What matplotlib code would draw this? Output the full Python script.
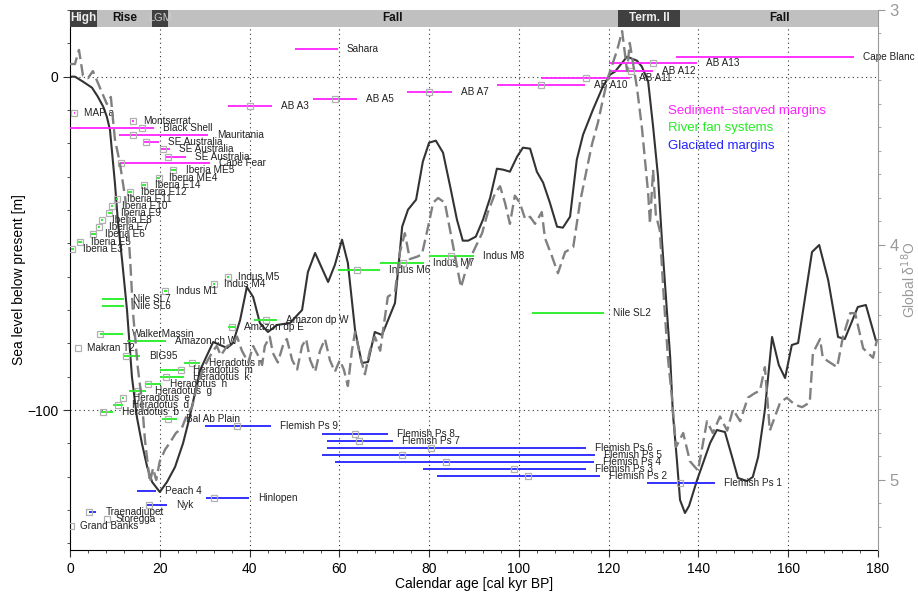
import numpy as np
import matplotlib
matplotlib.use('Agg')
import matplotlib.pyplot as plt
from matplotlib.ticker import MultipleLocator, FixedLocator

plt.rcParams['font.family'] = ['Liberation Sans', 'DejaVu Sans']

# sea level reconstruction (solid, left axis) [kyr BP, m]
sl_age = [0.0, 1.1, 2.9, 4.9, 6.2, 7.4, 8.2, 8.9, 10.0, 10.7, 11.6, 12.7, 13.8,
          14.9, 16.0, 17.2, 18.3, 20.0, 21.6, 23.4, 25.2, 26.5, 29.0, 31.9,
          35.0, 36.3, 37.9, 39.4, 40.8, 42.3, 44.1, 46.1, 49.0, 51.7, 53.0,
          54.6, 57.5, 59.0, 60.6, 61.9, 63.5, 65.0, 66.4, 67.9, 69.5, 72.4,
          74.0, 75.3, 77.1, 78.6, 80.0, 81.5, 83.1, 84.7, 86.2, 87.5, 88.7,
          90.4, 92.0, 93.6, 95.1, 96.5, 98.0, 99.6, 100.9, 102.5, 104.0,
          105.4, 106.9, 108.5, 109.8, 111.4, 112.9, 114.3, 116.5, 118.7,
          120.3, 121.4, 124.1, 126.3, 127.4, 128.8, 129.9, 131.0, 131.9,
          133.7, 134.3, 135.2, 135.9, 137.0, 137.9, 139.7, 142.6, 144.1,
          145.9, 147.5, 148.8, 150.8, 152.1, 153.3, 154.8, 156.4, 157.9,
          159.3, 160.8, 162.2, 165.3, 166.9, 168.9, 171.1, 172.6, 175.5,
          177.3, 179.5]
sl_m = [0, 0, -1.5, -3.3, -6.0, -9.0, -12.0, -15.9, -31.8, -43.8, -55.0,
        -70.0, -90.1, -102.1, -109.9, -117.1, -121.6, -124.6, -121.6, -117.1,
        -109.9, -103.0, -88.0, -79.6, -81.4, -79.9, -73.0, -63.1, -66.1,
        -73.9, -76.6, -74.5, -73.9, -70.0, -58.6, -52.9, -61.6, -56.5, -48.9,
        -55.9, -76.0, -85.9, -85.6, -76.6, -77.5, -67.9, -45.0, -39.9, -36.9,
        -25.5, -19.8, -19.2, -22.8, -33.0, -42.9, -49.2, -49.2, -48.0, -42.9,
        -36.3, -27.6, -27.9, -28.5, -24.0, -21.3, -21.6, -28.5, -31.8, -37.8,
        -45.0, -45.3, -42.0, -24.9, -17.4, -9.9, -3.0, 0.6, 1.5, 6.0, 4.8,
        3.0, -1.5, -15.0, -30.0, -49.8, -84.1, -100.9, -115.0, -127.0, -130.9,
        -128.8, -121.0, -109.9, -106.0, -106.6, -114.1, -120.4, -121.3,
        -120.1, -114.1, -100.0, -78.1, -86.5, -90.4, -80.5, -79.9, -52.6,
        -50.5, -61.0, -78.1, -78.7, -69.1, -68.5, -79.0]

# global benthic d18O stack (dashed, right axis) [kyr BP, permil]
d18o_age = [0.0, 1.1, 2.0, 2.9, 4.0, 5.1, 6.0, 7.1, 8.2, 9.1, 10.0, 11.1,
            12.3, 12.9, 13.4, 14.0, 15.1, 16.0, 16.7, 17.8, 18.5, 19.2, 20.0,
            21.2, 22.3, 23.6, 24.9, 26.1, 27.2, 28.3, 29.6, 30.7, 31.9, 32.7,
            33.6, 35.0, 36.3, 37.2, 38.3, 39.7, 40.8, 41.9, 42.8, 43.4, 44.5,
            45.2, 46.3, 47.4, 48.3, 49.5, 50.6, 51.7, 52.6, 53.5, 54.6, 55.7,
            56.8, 57.9, 59.0, 60.1, 61.0, 61.9, 62.8, 63.5, 64.6, 65.7, 66.8,
            67.9, 69.1, 70.8, 72.4, 73.5, 74.6, 75.7, 77.3, 78.4, 79.8, 80.9,
            82.0, 83.5, 84.7, 85.8, 87.1, 88.0, 89.8, 91.8, 93.1, 94.7, 95.8,
            96.9, 98.0, 99.1, 100.2, 101.4, 102.5, 103.6, 105.1, 105.8, 107.4,
            108.7, 110.3, 112.1, 113.6, 115.2, 116.3, 117.6, 118.5, 119.8,
            121.9, 123.0, 124.1, 124.7, 126.3, 127.4, 128.1, 128.8, 129.2,
            129.9, 130.5, 131.4, 132.3, 133.2, 134.1, 135.0, 136.6, 138.1,
            139.9, 141.9, 143.2, 144.8, 146.4, 147.7, 149.3, 151.0, 152.6,
            153.7, 154.8, 155.9, 158.2, 159.7, 161.5, 163.1, 164.8, 165.5,
            167.1, 167.7, 169.3, 170.9, 172.2, 173.8, 174.9, 176.7, 177.8,
            178.9, 179.8]
d18o = [3.23, 3.23, 3.17, 3.28, 3.29, 3.26, 3.30, 3.35, 3.40, 3.37, 3.55,
        3.65, 3.80, 3.92, 4.06, 4.28, 4.52, 4.66, 4.83, 5.01, 4.95, 5.00,
        4.92, 4.87, 4.84, 4.80, 4.78, 4.72, 4.69, 4.60, 4.53, 4.49, 4.45,
        4.43, 4.47, 4.43, 4.42, 4.39, 4.45, 4.50, 4.43, 4.47, 4.51, 4.43,
        4.39, 4.46, 4.50, 4.43, 4.40, 4.49, 4.53, 4.43, 4.40, 4.49, 4.54,
        4.45, 4.40, 4.49, 4.54, 4.49, 4.53, 4.60, 4.45, 4.37, 4.47, 4.55,
        4.45, 4.39, 4.45, 4.22, 4.20, 4.03, 3.95, 4.06, 4.05, 4.04, 3.92,
        3.82, 3.80, 3.82, 3.94, 4.05, 4.18, 4.12, 4.03, 3.95, 3.86, 3.78,
        3.75, 3.82, 3.91, 3.79, 3.82, 3.89, 3.88, 3.91, 3.86, 3.97, 4.05,
        4.12, 4.03, 4.01, 3.82, 3.67, 3.57, 3.48, 3.40, 3.29, 3.17, 3.09,
        3.26, 3.14, 3.33, 3.50, 3.64, 3.78, 3.91, 3.68, 3.87, 3.94, 4.23,
        4.48, 4.65, 4.86, 4.80, 4.92, 4.96, 4.75, 4.80, 4.73, 4.79, 4.70,
        4.75, 4.65, 4.63, 4.62, 4.52, 4.79, 4.67, 4.65, 4.68, 4.69, 4.67,
        4.46, 4.40, 4.48, 4.50, 4.52, 4.39, 4.29, 4.29, 4.44, 4.46, 4.48,
        4.40]

# phases shown in the top bar
phase_names = ['High', 'Rise', 'LGM', 'Fall', 'Term. II', 'Fall']
phase_start = [0, 6.0, 18.3, 21.8, 122.0, 136.0]
phase_end = [6.0, 18.3, 21.8, 122.0, 136.0, 180]
phase_dark = [True, False, True, False, True, False]

# sea level indicator records: S sediment-starved, R river fan, G glaciated
rec_name = ['Sahara', 'AB A3', 'AB A5', 'AB A7', 'AB A10', 'AB A11',
            'AB A12', 'AB A13', 'Cape Blanc', 'MAP a', 'Montserrat',
            'Black Shell', 'Mauritania', 'SE Australia', 'SE Australia',
            'SE Australia', 'Cape Fear',
            'Iberia ME5', 'Iberia ME4', 'Iberia E14', 'Iberia E12',
            'Iberia E11', 'Iberia E10', 'Iberia E9', 'Iberia E8', 'Iberia E7',
            'Iberia E6', 'Iberia E5', 'Iberia E3', 'Indus M5', 'Indus M4',
            'Indus M1', 'Nile SL7', 'Nile SL6', 'WalkerMassin', 'Amazon ch W',
            'Makran T2', 'BIG95', 'Amazon dp W', 'Amazon dp E', 'Heradotus n',
            'Heradotus  m', 'Heradotus  k', 'Heradotus  h', 'Heradotus  g',
            'Heradotus  e', 'Heradotus  d', 'Heradotus  b', 'Bal Ab Plain',
            'Indus M6', 'Indus M7', 'Indus M8', 'Nile SL2',
            'Flemish Ps 9', 'Flemish Ps 8', 'Flemish Ps 7', 'Flemish Ps 6',
            'Flemish Ps 5', 'Flemish Ps 4', 'Flemish Ps 3', 'Flemish Ps 2',
            'Flemish Ps 1', 'Peach 4', 'Hinlopen', 'Nyk', 'Traenadjupet',
            'Storegga', 'Grand Banks']
rec_group = ['S'] * 17 + ['R'] * 36 + ['G'] * 15
nan = np.nan
rec_lo = [50.1, 35.2, 54.1, 75.1, 95.1, 104.9, 120.1, 120.1, 135.0, 0.8,
          13.8, 0.0, 10.9, 16.3, 20.0, 21.2, 11.1,
          22.4, 19.4, 16.0, 12.9, 10.2, 9.1, 8.4, 6.9, 6.3, 4.5, 1.8, 0.2,
          34.9, 31.8, 20.9, 7.1, 7.1, 6.7, 12.7, nan, 12.0, 41.0, 35.2, 25.4,
          20.0, 20.0, 16.7, 13.2, 11.6, 9.6, 6.7, 20.5, 59.7, 69.1, 80.0,
          102.9,
          30.1, 56.1, 57.3, 57.3, 56.1, 59.0, 78.6, 81.8, 128.5, 14.9, 30.3,
          16.9, 4.2, nan, nan]
rec_hi = [59.7, 45.0, 63.9, 85.1, 114.7, 124.7, 129.9, 139.7, 174.7, 1.2,
          14.2, 18.7, 30.7, 19.8, 22.3, 25.8, 31.2,
          23.9, 20.0, 16.9, 13.8, 10.7, 9.6, 9.3, 7.3, 6.7, 5.8, 2.6, 0.9,
          35.5, 32.4, 21.5, 12.0, 12.0, 11.8, 21.4, nan, 15.6, 46.1, 36.8,
          29.0, 25.4, 25.4, 20.3, 16.9, 12.0, 11.8, 9.6, 23.8, 69.1, 78.9,
          90.0, 119.0,
          44.8, 70.8, 72.0, 114.9, 117.0, 116.7, 114.9, 118.1, 143.7, 19.2,
          39.9, 21.6, 5.9, nan, nan]
rec_mark = [nan, 40.1, 59.0, 80.0, 104.9, 114.9, 125.0, 129.9, nan, 1.0,
            14.0, 16.0, 14.0, 16.9, 20.7, 21.8, 11.4,
            23.0, 19.8, 16.5, 13.4, 10.5, 9.4, 8.7, 7.1, 6.5, 5.1, 2.2, 0.4,
            35.2, 32.1, 21.2, nan, nan, 6.7, nan, 1.8, 12.5, 43.7, 36.1, 27.2,
            24.7, 21.4, 17.4, 15.1, 11.8, 10.7, 7.4, 21.8, 63.9, 74.2, 84.9,
            nan,
            37.2, 63.5, 64.4, 80.4, 74.0, 83.8, 98.9, 102.0, 135.9, nan, 32.1,
            17.6, 4.2, 8.2, 0.2]
rec_level = [8.4, -8.7, -6.6, -4.5, -2.4, -0.3, 1.8, 4.2, 6.0, -10.8, -13.2,
             -15.3, -17.4, -19.5, -21.6, -24.0, -25.8,
             -27.9, -30.3, -32.4, -34.5, -36.6, -38.7, -40.8, -42.9, -45.0,
             -47.1, -49.5, -51.7, -60.0, -62.2, -64.3, -66.7, -68.8, -77.2,
             -79.3, -81.4, -83.8, -73.0, -75.0, -85.9, -88.0, -90.1, -92.2,
             -94.3, -96.4, -98.5, -100.6, -102.7, -58.0, -55.9, -53.8, -70.9,
             -104.8, -107.1, -109.3, -111.4, -113.5, -115.6, -117.7, -119.8,
             -121.9, -124.3, -126.4, -128.5, -130.6, -132.7, -134.8]

group_names = ['Sediment\u2212starved margins', 'River fan systems',
               'Glaciated margins']
group_keys = ['S', 'R', 'G']
group_color = {'S': '#ff22ff', 'R': '#22ee22', 'G': '#2222ff'}


def main():
    fig = plt.figure(figsize=(9.18, 5.98), dpi=100)
    ax = fig.add_axes([70 / 918, 48 / 598, 808 / 918, 540 / 598])
    ax2 = ax.twinx()

    # grid
    for x in range(20, 180, 20):
        ax.axvline(x, color='#333333', lw=0.8, ls=(0, (1, 3)), zorder=0)
    for y in (0, -100):
        ax.axhline(y, color='#333333', lw=0.8, ls=(0, (1, 3)), zorder=0)

    ax.plot(sl_age, sl_m, color='#333333', lw=1.5, zorder=2)
    ax2.plot(d18o_age, d18o, color='#808080', lw=1.7, dashes=(5, 2.2))

    for i in range(len(rec_name)):
        c = group_color[rec_group[i]]
        if not np.isnan(rec_lo[i]):
            ax.plot([rec_lo[i], rec_hi[i]], [rec_level[i]] * 2, color=c,
                    lw=1.3, solid_capstyle='butt', zorder=3)
        if not np.isnan(rec_mark[i]):
            ax.plot(rec_mark[i], rec_level[i], 's', mfc='none',
                    mec='#b0b0b0', ms=5, mew=0.9, zorder=4)
        end = np.nanmax([rec_hi[i], rec_mark[i]])
        ax.annotate(rec_name[i], (end, rec_level[i]), xytext=(6.5, 0),
                    textcoords='offset points', va='center', ha='left',
                    fontsize=7.2, color='#222222', zorder=5)

    for k, (key, name) in enumerate(zip(group_keys, group_names)):
        ax.text(133.2, -10.2 - 5.3 * k, name, color=group_color[key],
                fontsize=9.5, va='center', ha='left')

    # phase bar
    trans = ax2.get_xaxis_transform()
    for name, x0, x1, dark in zip(phase_names, phase_start, phase_end,
                                  phase_dark):
        ax2.add_patch(plt.Rectangle((x0, 157 / 162), x1 - x0, 5 / 162,
                                    transform=trans, clip_on=False,
                                    facecolor='#404040' if dark else '#c0c0c0',
                                    edgecolor='none', zorder=6))
        if name == 'LGM':
            ax2.text((x0 + x1) / 2, 159.5 / 162, name, transform=trans,
                     ha='center', va='center', fontsize=8, color='#cccccc',
                     zorder=7)
        else:
            ax2.text((x0 + x1) / 2, 159.5 / 162, name, transform=trans,
                     ha='center', va='center', fontsize=8.5,
                     fontweight='bold',
                     color='#eeeeee' if dark else '#111111', zorder=7)

    ax.set_xlim(0, 180)
    ax.set_ylim(-142, 20)
    ax2.set_ylim(5.298, 3.0)

    ax.xaxis.set_major_locator(MultipleLocator(20))
    ax.xaxis.set_minor_locator(MultipleLocator(4))
    ax.yaxis.set_major_locator(FixedLocator([-100, 0]))
    ax.yaxis.set_minor_locator(MultipleLocator(10))
    ax2.yaxis.set_major_locator(FixedLocator([3, 4, 5]))
    ax2.yaxis.set_minor_locator(MultipleLocator(0.1))

    ax.tick_params(which='both', direction='out', labelsize=10,
                   color='#333333')
    ax.tick_params(which='major', length=5)
    ax.tick_params(which='minor', length=2.5)
    ax2.tick_params(which='both', direction='out', color='#999999',
                    labelcolor='#999999', labelsize=12)
    ax2.tick_params(which='major', length=5)
    ax2.tick_params(which='minor', length=2.5)

    for s in ('top', 'right'):
        ax.spines[s].set_visible(False)
    for s in ('top', 'left', 'bottom'):
        ax2.spines[s].set_visible(False)
    ax2.spines['right'].set_color('#999999')

    ax.set_xlabel('Calendar age [cal kyr BP]', fontsize=10, labelpad=1)
    ax.set_ylabel('Sea level below present [m]', fontsize=10, labelpad=1)
    ax2.set_ylabel('Global \u03b4$^{18}$O', fontsize=10, color='#999999',
                   labelpad=0)

    fig.savefig('out.png', dpi=100)


if __name__ == '__main__':
    main()
